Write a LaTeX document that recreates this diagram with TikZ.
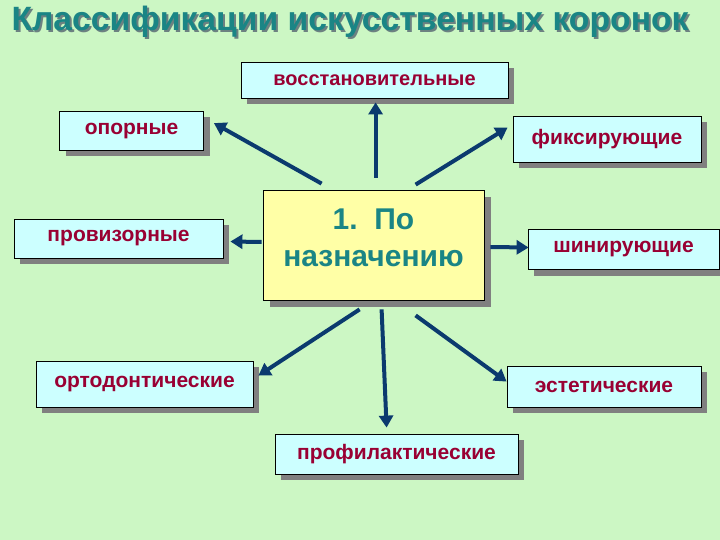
\documentclass[tikz,border=0pt]{standalone}
\usepackage{fontspec}
\setmainfont{Liberation Sans}
\usetikzlibrary{arrows.meta,shadows}
\definecolor{bg}{HTML}{CCF7C4}
\definecolor{boxfill}{HTML}{CCFFFF}
\definecolor{centerfill}{HTML}{FFFFA6}
\definecolor{crimson}{HTML}{990033}
\definecolor{tealtxt}{HTML}{1A8585}
\definecolor{navy}{HTML}{0B3A6E}
\definecolor{shade}{HTML}{808080}
\tikzset{
  box/.style={draw=black, line width=0.8pt, fill=boxfill, inner sep=0pt,
    font=\fontsize{21}{23}\selectfont\bfseries, text=crimson,
    drop shadow={shadow xshift=6pt, shadow yshift=-6pt, fill=shade, opacity=1}},
  centerbox/.style={draw=black, line width=0.8pt, fill=centerfill, inner sep=0pt,
    drop shadow={shadow xshift=7pt, shadow yshift=-7pt, fill=shade, opacity=1}},
  centertext/.style={text=tealtxt, align=center, font=\fontsize{30}{37}\selectfont\bfseries},
  arr/.style={draw=navy, line width=4pt, -{Triangle[length=12pt,width=14pt]}}
}
\begin{document}
\begin{tikzpicture}[x=1pt,y=-1pt]
\fill[bg] (0,0) rectangle (720,540);
\useasboundingbox (0,0) rectangle (720,540);
% title
\node[anchor=west, text=shade!80!tealtxt, font=\fontsize{33.7}{36}\selectfont\bfseries] at (10,24) {Классификации искусственных коронок};
\node[anchor=west, text=tealtxt, font=\fontsize{33.7}{36}\selectfont\bfseries] (title) at (8,22) {Классификации искусственных коронок};
% boxes
\node[box, font=\fontsize{20}{22}\selectfont\bfseries, minimum width=267pt, minimum height=36pt] (v) at (374.5,80) {восстановительные};
\node[box, minimum width=144pt, minimum height=39pt] (op) at (131.5,131) {опорные};
\node[box, minimum width=188pt, minimum height=46pt] (fx) at (607,139) {фиксирующие};
\node[box, minimum width=209pt, minimum height=39pt] (pr) at (118.5,238.5) {провизорные};
\node[centerbox, minimum width=221pt, minimum height=110pt,
  label={[centertext, yshift=7pt]center:1.~~По\\назначению}] (c) at (373.5,245) {};
\node[box, minimum width=191pt, minimum height=40pt] (sh) at (623.5,249.5) {шинирующие};
\node[box, minimum width=217pt, minimum height=46pt] (or) at (144.5,384) {ортодонтические};
\node[box, minimum width=194pt, minimum height=41pt] (es) at (604,386.5) {эстетические};
\node[box, minimum width=243pt, minimum height=40pt] (pf) at (396.5,454) {профилактические};
% arrows
\draw[arr] ([shift={(113,-12)}]c.north west) -- ([shift={(135,4)}]v.south west);
\draw[arr] ([shift={(59,-6)}]c.north west) -- ([shift={(10,12)}]op.north east);
\draw[arr] ([shift={(153,-5)}]c.north west) -- ([shift={(-5,12)}]fx.north west);
\draw[arr] ([shift={(-1,-3)}]c.west) -- ([shift={(7,3)}]pr.east);
\draw[arr] ([shift={(6,2)}]c.east) -- ([shift={(1,-2)}]sh.west);
\draw[arr] ([shift={(97,9)}]c.south west) -- ([shift={(5,15)}]or.north east);
\draw[arr] ([shift={(119,9)}]c.south west) -- ([shift={(112,-6)}]pf.north west);
\draw[arr] ([shift={(153,15)}]c.south west) -- ([shift={(0,16)}]es.north west);
\end{tikzpicture}
\end{document}
